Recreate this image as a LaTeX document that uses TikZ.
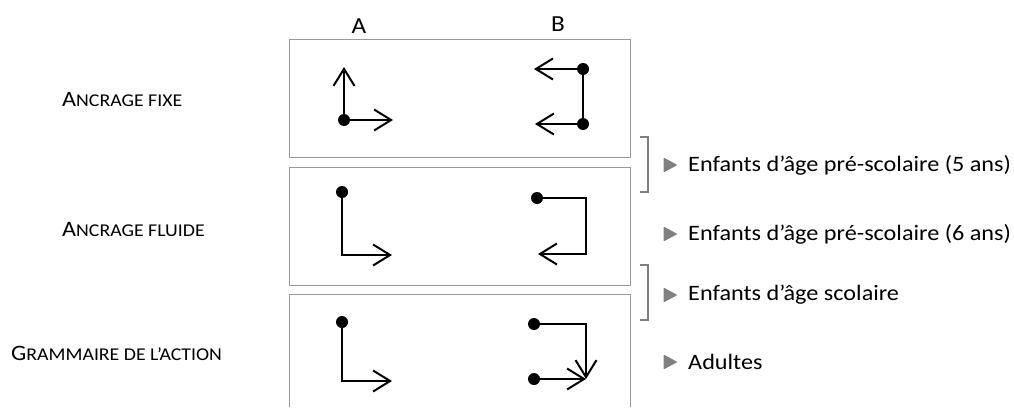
\documentclass[tikz,border=0pt]{standalone}
\usepackage{fontspec}
\setmainfont{Carlito}[FakeStretch=1.1]
\usetikzlibrary{arrows.meta, positioning, shapes.geometric}
\colorlet{boxColor}{black!40}
\colorlet{markColor}{black!50}
\tikzstyle{panel}=[draw=boxColor, line width=1pt]
\tikzstyle{bracket}=[draw=markColor, line width=1.2pt]
\tikzstyle{dot}=[circle, fill=black, inner sep=0pt, minimum size=12pt]
\tikzstyle{stroke}=[line width=2pt, draw=black]
\tikzstyle{arrow}=[stroke, -{Straight Barb[length=17pt, width=21pt, line width=2pt]}]
\tikzstyle{label}=[inner sep=0pt, anchor=west, font=\fontsize{22}{25}\selectfont]
\tikzstyle{colhead}=[inner sep=0pt, font=\fontsize{23}{26}\selectfont]
\tikzstyle{bullet}=[isosceles triangle, isosceles triangle stretches,
  fill=markColor, inner sep=0pt, minimum width=15pt, minimum height=14pt,
  rounded corners=1pt]
\newcommand{\fakesc}[2]{#1{\fontsize{18}{21}\selectfont #2}}

\begin{document}
\begin{tikzpicture}[x=1pt, y=-1pt]
  \useasboundingbox (0,0) rectangle (1014,407);
  % panels
  \draw[panel] (289,39) rectangle (630,157);
  \draw[panel] (289,167) rectangle (630,285);
  \draw[panel] (289,407) |- (630,294) -- (630,407);
  \node(colA) [colhead] at (359,26) {A};
  \node(colB) [colhead] at (558,24) {B};
  % row labels
  \node(fixe) [label] at (62,100) {\fakesc{A}{NCRAGE FIXE}};
  \node(fluide) [label] at (62,230) {\fakesc{A}{NCRAGE FLUIDE}};
  \node(gram) [label] at (11,353) {\fakesc{G}{RAMMAIRE DE L’ACTION}};
  % fixed anchoring
  \node(fA) [dot] at (344,120) {};
  \coordinate(fAup) at (344,67);
  \coordinate(fAri) at (393,120);
  \draw[arrow] (fA.center) -- (fAup);
  \draw[arrow] (fA.center) -- (fAri);
  \node(fB1) [dot] at (583,69) {};
  \node(fB2) [dot] at (583,124) {};
  \coordinate(fB1le) at (534,69);
  \coordinate(fB2le) at (535,124);
  \draw[stroke] (fB1.center) -- (fB2.center);
  \draw[arrow] (fB1.center) -- (fB1le);
  \draw[arrow] (fB2.center) -- (fB2le);
  % fluid anchoring
  \node(lA) [dot] at (342,192) {};
  \coordinate(lAri) at (392,255);
  \draw[arrow] (lA.center) |- (lAri);
  \node(lB) [dot] at (537,198) {};
  \coordinate(lBc) at (586,254);
  \coordinate(lBle) at (538,254);
  \draw[arrow] (lB.center) -| (lBc) -- (lBle);
  % action grammar
  \node(gA) [dot] at (342,322) {};
  \coordinate(gAri) at (392,381);
  \draw[arrow] (gA.center) |- (gAri);
  \node(gB1) [dot] at (534,324) {};
  \node(gB2) [dot] at (534,379) {};
  \coordinate(gBend) at (586,379);
  \draw[arrow] (gB1.center) -| (gBend);
  \draw[arrow] (gB2.center) -- (gBend);
  % brackets
  \draw[bracket] (640,137) -- (648,137) -- (648,192) -- (640,192);
  \draw[bracket] (640,265) -- (648,265) -- (648,320) -- (640,320);
  % age groups
  \node(t1) [bullet] at (668,165) {};
  \node(t2) [bullet] at (668,234) {};
  \node(t3) [bullet] at (668,295) {};
  \node(t4) [bullet] at (668,362) {};
  \node(g1) [label, right=10pt of t1] {Enfants d’âge pré-scolaire (5 ans)};
  \node(g2) [label, right=10pt of t2] {Enfants d’âge pré-scolaire (6 ans)};
  \node(g3) [label, right=10pt of t3] {Enfants d’âge scolaire};
  \node(g4) [label, right=10pt of t4] {Adultes};
\end{tikzpicture}
\end{document}
